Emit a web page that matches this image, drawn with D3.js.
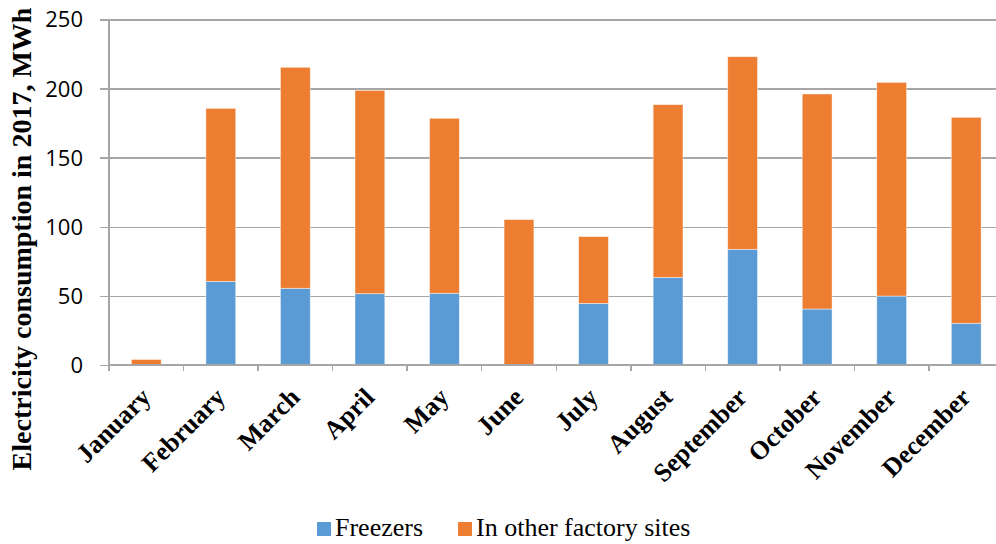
<!DOCTYPE html>
<meta charset="utf-8">
<style>
    body { margin: 0; background: #fff; }
    .grid line { stroke: #a6a6a6; stroke-width: 1.5px; shape-rendering: crispEdges; }
    .grid path { display: none; }
    .ylab text { font-family: "Open Sans", sans-serif; font-size: 22px; fill: #000; }
    .xlab text { font-family: "Liberation Serif", serif; font-weight: bold; font-size: 26px; fill: #000; }
    .legend text { font-family: "Liberation Serif", serif; font-size: 26px; fill: #000; }
</style>
<svg width="996" height="544"></svg>
<script src="https://cdn.jsdelivr.net/npm/d3@7/dist/d3.min.js"></script>
<script>
    const months = ["January", "February", "March", "April", "May", "June",
        "July", "August", "September", "October", "November", "December"];
    const freezers = [0, 60.5, 55.5, 51.6, 51.9, 0, 44.6, 63.4, 83.7, 40.5, 49.9, 30.2];
    const otherSites = [4, 125.2, 159.9, 147.1, 126.6, 105.2, 48.3, 125, 139.4, 155.6, 154.6, 149];
    const yTicks = [0, 50, 100, 150, 200, 250];
    const seriesNames = ["Freezers", "In other factory sites"];
    const colors = ["#5b9bd5", "#ed7d31"];

    var svg = d3.select("svg"),
        plotLeft = 109, plotRight = 1003.5, plotTop = 19.5, plotBottom = 365;

    var x = d3.scaleBand().domain(months).range([plotLeft, plotRight]).paddingInner(0.6).paddingOuter(0.3),
        xb = d3.scaleBand().domain(months).range([plotLeft, plotRight]),
        y = d3.scaleLinear().domain([0, 250]).range([plotBottom, plotTop]);

    // horizontal gridlines (with outside ticks)
    svg.append("g")
        .attr("class", "grid")
        .attr("transform", "translate(" + plotLeft + ",0)")
        .call(d3.axisLeft(y).tickValues(yTicks).tickSize(-(plotRight - plotLeft)).tickFormat(""))
        .selectAll("line").attr("x1", -9);

    // y tick labels
    svg.append("g")
        .attr("class", "ylab")
        .selectAll("text")
        .data(yTicks)
        .enter().append("text")
        .attr("x", 83)
        .attr("y", d => y(d))
        .attr("dy", "0.36em")
        .attr("text-anchor", "end")
        .text(d => d);

    // left axis line
    svg.append("line")
        .attr("x1", plotLeft).attr("x2", plotLeft)
        .attr("y1", plotTop).attr("y2", plotBottom)
        .attr("stroke", "#a6a6a6").attr("stroke-width", 1.5)
        .style("shape-rendering", "crispEdges");

    // bars
    const rows = months.map((m, i) => ({ month: m, Freezers: freezers[i], "In other factory sites": otherSites[i] }));
    const stack = d3.stack().keys(seriesNames)(rows);

    svg.append("g").selectAll("g")
        .data(stack)
        .enter().append("g")
        .attr("fill", (d, i) => colors[i])
        .selectAll("rect")
        .data(d => d.filter(p => p[1] > p[0]))
        .enter().append("rect")
        .attr("x", d => x(d.data.month))
        .attr("width", x.bandwidth())
        .attr("y", d => y(d[1]))
        .attr("height", d => y(d[0]) - y(d[1]))
        .attr("stroke", "rgba(255,255,255,0.55)")
        .attr("stroke-width", 0.8);

    // bottom axis with category-boundary ticks
    svg.append("line")
        .attr("x1", plotLeft).attr("x2", 996)
        .attr("y1", plotBottom).attr("y2", plotBottom)
        .attr("stroke", "#a6a6a6").attr("stroke-width", 1.5)
        .style("shape-rendering", "crispEdges");

    svg.append("g").selectAll("line")
        .data(months)
        .enter().append("line")
        .attr("x1", d => xb(d)).attr("x2", d => xb(d))
        .attr("y1", plotBottom).attr("y2", plotBottom + 6)
        .attr("stroke", "#a6a6a6").attr("stroke-width", 1.5)
        .style("shape-rendering", "crispEdges");

    // x labels, rotated
    svg.append("g")
        .attr("class", "xlab")
        .selectAll("text")
        .data(months)
        .enter().append("text")
        .attr("transform", d => "translate(" + (xb(d) + xb.bandwidth() / 2 - 7) + "," + (plotBottom + 21) + ") rotate(-45)")
        .attr("text-anchor", "end")
        .attr("dy", "0.7em")
        .text(d => d);

    // y axis title
    svg.append("text")
        .attr("transform", "translate(31,239) rotate(-90)")
        .attr("text-anchor", "middle")
        .style("font-family", "Liberation Serif, serif")
        .style("font-weight", "bold")
        .style("font-size", "28px")
        .text("Electricity consumption in 2017, MWh");

    // legend
    const legend = svg.append("g").attr("class", "legend");
    const lx = [317, 458];
    seriesNames.forEach((name, i) => {
        legend.append("rect")
            .attr("x", lx[i]).attr("y", 522)
            .attr("width", 14).attr("height", 14)
            .attr("fill", colors[i]);
        legend.append("text")
            .attr("x", lx[i] + 18).attr("y", 536)
            .text(name);
    });
</script>
